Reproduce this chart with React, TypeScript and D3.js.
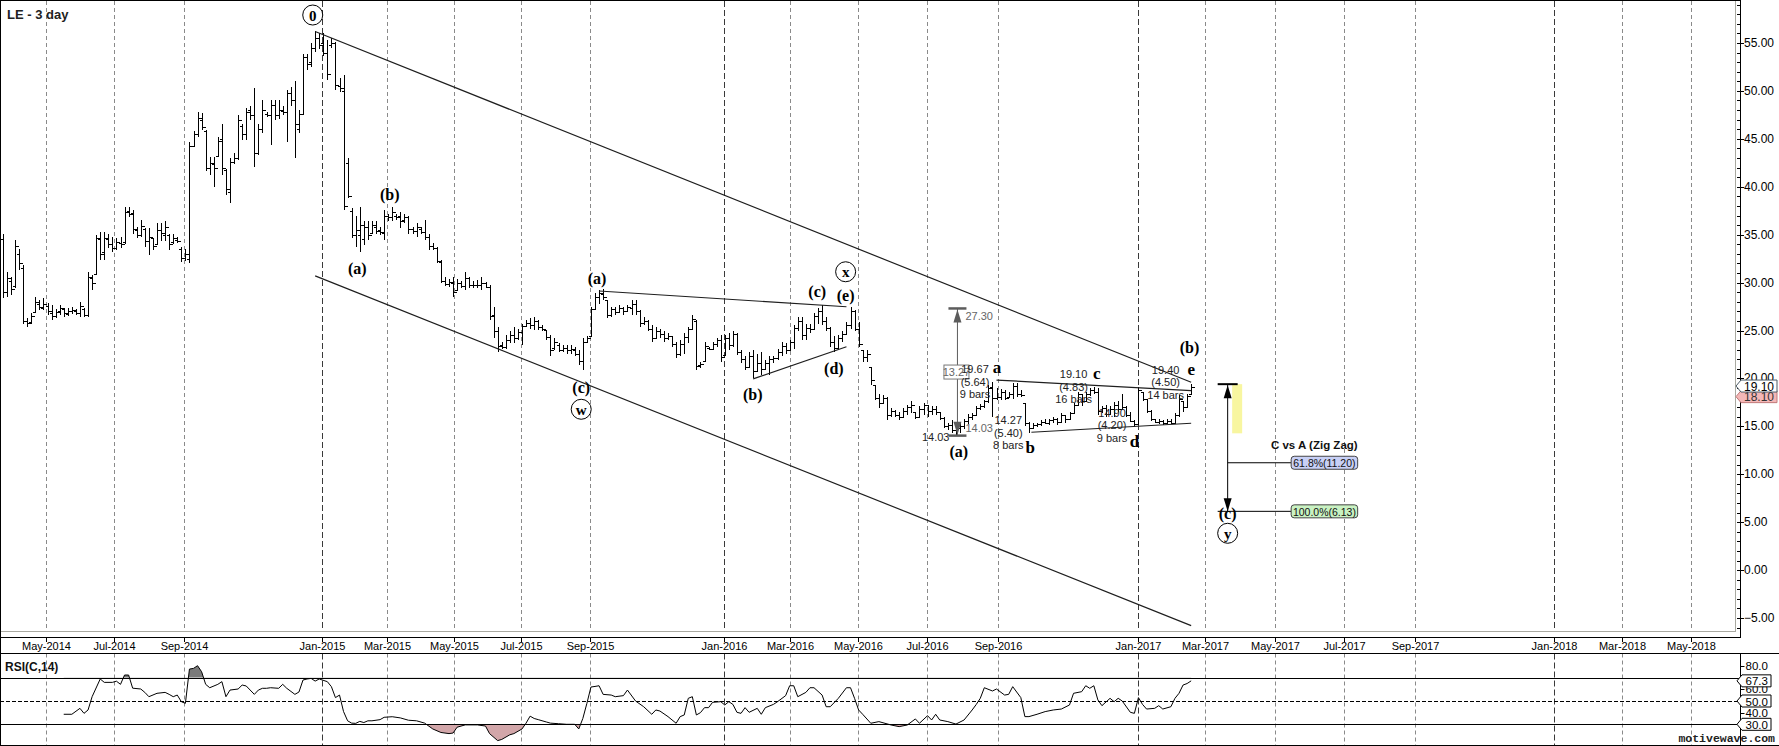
import React from 'react';
import * as d3 from 'd3';

const W = 1779;
const H = 746;

const chartTitle = 'LE - 3 day';
const rsiTitle = 'RSI(C,14)';
const watermark = 'motivewave.com';

const firstBarDate = '2014-03-24';
const lastBarDate = '2017-02-17';

// OHLC of the 3-day bars
const barOpen = [
  34.5,29.0,30.2,29.6,33.0,31.5,26.0,25.9,26.9,27.8,
  27.3,27.6,26.8,26.5,27.0,27.2,26.7,27.0,27.0,26.8,
  27.2,26.6,30.5,30.9,34.5,33.2,34.5,34.0,33.6,34.1,
  34.2,37.5,37.3,35.5,35.0,35.6,34.3,34.6,34.0,35.5,
  35.0,35.0,34.2,34.4,33.5,32.6,32.5,44.3,45.5,47.0,
  45.8,42.0,42.4,43.2,45.0,41.8,39.5,42.6,43.0,46.3,
  45.5,48.0,47.5,43.5,46.0,47.6,47.5,48.5,47.5,47.9,
  47.8,49.8,49.0,46.0,47.6,53.5,53.0,54.5,55.5,55.0,
  54.0,54.8,55.0,50.5,50.0,42.5,37.5,35.0,35.0,34.5,
  35.8,35.2,35.8,35.5,35.2,37.0,36.8,37.0,37.0,36.5,
  36.8,35.6,35.4,35.6,35.3,34.8,33.8,33.6,32.2,30.2,
  29.9,30.0,29.2,30.0,29.6,30.5,29.8,29.8,29.7,30.0,
  29.5,26.6,25.0,23.5,23.3,24.0,24.5,24.2,24.8,25.5,
  25.8,25.6,26.0,25.4,25.1,24.3,23.2,23.5,23.0,23.2,
  23.0,23.0,22.6,21.8,23.8,24.4,27.2,28.5,28.8,28.2,
  26.6,27.2,26.9,27.3,27.0,27.4,27.8,27.0,25.8,26.0,
  25.2,24.2,25.0,24.6,24.2,24.4,23.6,22.5,23.6,24.3,
  25.2,26.0,21.4,21.8,23.2,23.1,23.6,24.0,22.4,24.2,
  23.5,24.6,22.8,22.0,21.2,22.3,20.8,21.6,21.0,21.6,
  22.0,22.1,22.8,23.4,23.0,23.8,25.3,26.0,24.5,25.3,
  25.2,26.5,27.0,26.0,25.3,23.8,23.2,24.2,24.6,25.6,
  27.0,25.2,23.0,22.2,21.2,19.3,18.0,17.4,18.0,16.2,
  16.6,16.2,16.0,16.6,17.0,16.5,16.0,16.8,17.2,16.6,
  16.8,16.5,15.9,15.0,15.1,14.6,14.8,15.0,15.6,16.0,
  16.2,16.9,17.1,17.6,19.1,18.0,18.1,18.6,18.1,18.4,
  19.2,18.4,17.4,15.3,14.8,15.1,15.2,15.5,15.4,15.7,
  15.8,15.5,16.2,15.8,16.4,17.2,18.4,17.6,18.4,18.8,
  18.6,16.6,16.9,16.3,16.8,17.2,16.8,17.0,16.2,15.6,
  15.2,18.6,17.9,16.6,15.8,15.5,15.6,15.3,15.6,15.4,
  16.2,17.6,17.0,18.4,
];
const barHigh = [
  35.1,31.1,30.6,34.4,33.5,31.8,26.3,26.8,28.5,28.2,
  28.4,27.9,27.7,27.2,27.7,27.4,27.3,27.5,27.2,28.0,
  27.3,31.1,30.8,35.0,35.3,35.3,35.1,34.8,34.6,34.8,
  37.9,37.9,37.6,35.8,36.5,35.7,35.7,34.6,36.2,36.2,
  36.4,35.1,35.1,34.8,33.7,33.5,44.7,45.8,47.8,47.7,
  45.9,43.1,43.1,45.2,46.6,41.9,43.0,43.5,47.5,46.6,
  48.2,48.4,50.3,46.6,49.1,47.8,49.1,49.1,49.1,48.4,
  50.1,50.4,51.0,48.0,53.9,53.9,55.0,56.2,56.0,56.0,
  55.3,55.5,55.1,51.3,51.7,43.0,37.8,36.9,37.9,36.4,
  36.4,36.4,36.4,35.8,37.6,37.2,37.9,37.2,37.4,37.2,
  36.9,35.8,36.2,35.8,36.5,35.1,34.1,33.7,32.4,30.6,
  30.4,30.6,30.4,30.2,31.1,30.6,30.2,30.3,30.6,30.1,
  29.8,27.5,25.4,23.8,24.5,24.9,25.4,25.2,25.7,26.1,
  26.3,26.4,26.1,25.6,25.1,24.5,24.2,23.7,23.5,23.5,
  23.5,23.3,23.0,24.2,24.4,27.5,28.9,29.2,29.3,28.2,
  27.5,27.5,27.7,27.5,27.7,28.2,28.2,27.1,26.4,26.1,
  25.6,25.4,25.2,24.9,24.7,24.4,23.8,24.0,24.7,25.4,
  26.6,26.1,21.7,23.8,23.3,23.8,24.2,24.5,24.5,24.7,
  24.9,24.7,23.0,22.3,22.8,23.0,22.6,22.8,21.9,22.3,
  22.3,23.1,23.8,23.7,24.0,25.6,26.4,26.4,25.7,25.7,
  26.8,27.3,27.7,26.4,25.4,24.4,24.5,24.9,25.9,27.5,
  27.1,25.9,23.0,23.0,21.2,19.3,18.4,18.3,18.1,16.9,
  16.7,16.5,16.9,17.2,17.6,16.5,17.1,17.4,17.2,17.1,
  17.1,16.5,16.0,15.3,15.7,15.1,15.3,15.8,16.3,16.4,
  17.1,17.3,17.8,19.3,19.67,19.0,18.9,18.8,18.6,19.5,
  19.5,18.8,17.4,15.5,15.3,15.4,15.7,15.8,15.8,16.0,
  15.9,16.4,16.2,16.5,17.4,18.6,18.4,18.6,19.0,19.1,
  19.0,17.1,17.2,17.1,17.5,17.6,18.4,17.1,16.5,15.7,
  19.1,18.6,17.9,16.7,15.8,15.8,15.7,15.8,15.8,16.4,
  18.3,17.6,18.4,19.4,
];
const barLow = [
  28.4,28.5,28.7,29.4,31.3,25.7,25.4,25.7,26.8,27.1,
  27.1,26.6,26.1,26.3,26.6,26.4,26.5,26.7,26.6,26.4,
  26.4,26.4,29.2,30.8,32.4,32.4,33.6,33.2,33.4,33.6,
  34.0,36.8,35.1,34.6,34.8,33.7,32.9,33.4,33.9,34.3,
  34.3,33.4,34.0,34.1,32.2,32.3,32.0,44.2,45.2,45.9,
  41.6,41.2,40.0,43.1,41.2,39.1,38.3,42.4,42.8,44.9,
  44.9,47.0,42.1,43.3,45.6,47.3,44.4,47.0,47.1,47.5,
  44.7,48.4,43.0,45.6,47.5,52.2,52.5,54.1,54.4,53.6,
  51.1,54.5,50.1,49.9,37.6,38.8,34.6,33.7,33.2,33.9,
  34.4,35.1,35.1,35.0,34.4,36.4,36.4,36.5,35.7,36.2,
  35.1,35.1,34.8,35.1,34.4,33.4,33.4,32.0,30.0,29.6,
  29.5,28.5,29.1,29.4,29.2,29.4,29.4,29.4,29.2,29.4,
  26.1,24.2,22.8,23.1,23.1,23.7,23.7,24.0,23.5,25.4,
  25.2,25.1,25.1,24.9,24.0,22.3,23.0,22.8,22.8,22.6,
  22.6,22.3,21.4,20.9,23.7,24.4,27.1,27.8,28.2,26.3,
  26.4,26.6,26.8,26.6,26.9,26.6,26.6,25.4,25.6,24.9,
  23.8,24.2,24.2,23.8,24.0,23.3,22.1,22.3,22.6,23.7,
  25.1,20.9,21.1,21.7,23.0,23.1,23.3,21.7,22.3,23.0,
  23.3,22.4,21.6,20.9,21.2,20.0,20.7,20.4,20.9,20.4,
  21.6,21.9,22.3,22.6,23.0,23.1,24.9,24.0,24.0,24.7,
  25.2,25.7,25.6,24.9,23.3,22.8,23.2,23.8,24.6,25.2,
  24.9,23.3,21.7,21.7,19.3,17.7,16.9,17.4,15.7,16.0,
  16.0,15.7,16.0,16.2,16.4,15.8,16.0,16.2,16.0,16.2,
  16.2,15.7,14.8,14.6,14.3,14.03,14.3,14.7,15.2,15.7,
  16.2,16.7,16.9,17.4,16.0,17.8,17.8,17.8,18.1,17.9,
  18.1,18.1,15.0,14.27,14.8,14.9,15.0,15.2,15.1,15.3,
  15.1,15.5,15.3,15.7,16.4,17.2,17.1,17.6,18.2,18.4,
  16.2,16.4,16.0,16.2,16.0,16.5,16.7,16.0,15.5,14.9,
  15.1,17.6,16.4,15.6,15.3,15.2,15.1,15.2,15.2,15.4,
  16.0,16.5,17.0,18.3,
];
const barClose = [
  29.0,30.5,29.3,33.8,32.0,26.0,25.8,26.5,28.0,27.5,
  27.8,27.0,26.5,26.9,27.3,26.8,27.0,27.1,26.8,27.6,
  26.6,30.6,30.0,34.7,33.0,34.6,34.0,33.6,34.2,34.0,
  37.4,37.2,35.6,35.0,35.9,34.3,34.8,33.8,35.5,35.2,
  35.8,34.0,34.6,34.3,32.6,33.0,44.2,45.5,47.2,46.2,
  42.0,42.5,42.0,44.8,42.0,39.8,42.6,43.0,47.0,45.5,
  47.8,47.5,43.5,46.0,48.0,47.5,48.5,47.5,48.0,47.8,
  49.8,49.0,46.5,47.6,53.5,52.8,54.5,55.5,54.8,54.0,
  51.8,55.0,50.6,50.3,38.0,39.0,35.0,35.5,36.0,35.8,
  35.0,36.0,35.4,35.3,37.0,36.8,37.4,36.8,36.4,36.8,
  35.6,35.4,35.8,35.3,34.8,33.8,33.6,32.3,30.2,29.9,
  30.1,29.0,30.0,29.6,30.5,29.8,29.8,29.7,30.0,29.5,
  26.5,25.0,23.4,23.3,24.0,24.5,24.2,24.8,25.5,25.8,
  25.6,26.0,25.4,25.2,24.3,23.0,23.8,23.0,23.2,23.0,
  23.1,22.6,21.8,23.8,24.2,27.2,28.5,28.9,28.5,26.6,
  27.2,26.9,27.4,27.0,27.5,27.8,27.0,25.8,26.0,25.2,
  24.2,25.0,24.6,24.2,24.4,23.6,22.5,23.6,24.3,25.2,
  26.2,21.3,21.5,23.4,23.1,23.6,24.0,22.2,24.2,23.5,
  24.6,22.8,22.0,21.2,22.3,20.8,21.6,21.0,21.6,22.0,
  22.1,22.8,23.4,23.0,23.8,25.3,26.0,24.5,25.3,25.2,
  26.5,27.0,26.0,25.3,23.8,23.2,24.2,24.6,25.6,27.0,
  25.2,23.6,22.2,22.6,19.8,18.0,17.4,18.0,16.2,16.6,
  16.2,16.0,16.6,17.0,17.2,16.0,16.8,17.2,16.6,16.8,
  16.5,15.9,15.0,15.1,14.6,14.8,15.0,15.6,16.0,16.2,
  16.9,17.1,17.6,19.0,18.0,18.1,18.6,18.0,18.4,19.2,
  18.4,18.3,15.3,14.8,15.1,15.2,15.5,15.4,15.7,15.8,
  15.5,16.2,15.8,16.4,17.2,18.4,17.6,18.4,18.8,18.6,
  16.6,16.9,16.3,16.8,17.2,16.8,17.0,16.2,15.6,15.2,
  18.8,17.9,16.6,15.8,15.5,15.6,15.3,15.6,15.4,16.2,
  17.9,17.0,18.2,19.1,
];

// RSI(14) readings: bar index and value
const rsiIndex = [
  15,17,19,20,21,22,24,25,27,28,29,30,31,32,34,35,36,38,40,41,42,43,44,45,46,47,48,49,50,51,
  53,54,55,56,58,59,60,62,63,64,65,66,68,69,70,72,73,74,75,76,77,78,80,81,82,83,84,85,86,87,
  88,89,90,91,92,93,94,96,98,100,102,104,106,108,110,111,112,114,117,119,120,122,123,125,126,128,129,130,131,132,
  134,135,137,139,141,142,143,144,145,146,147,148,150,151,153,154,156,158,160,161,162,164,166,167,168,169,170,171,172,173,
  174,175,177,178,179,180,181,182,183,184,186,187,188,190,191,193,194,195,196,198,199,200,202,203,204,206,208,209,210,211,
  212,214,216,219,221,223,225,226,228,229,230,231,233,235,237,239,240,241,242,244,245,247,248,249,251,252,253,255,257,259,
  261,263,264,266,267,268,269,270,271,273,274,275,276,278,279,280,281,282,284,285,286,288,289,290,291,292,293,
];
const rsiValue = [
  38.6,38.6,43.7,39.4,42.3,53.7,68.9,66,66,67,64.3,72.3,72.3,61,60.3,57.4,53.7,56.6,57.4,55.7,53.7,55.1,49.4,48,77.4,78,80.3,75.1,64.3,61.4,
  64.3,66.6,53.7,59.4,60.3,63.7,62.9,55.7,59.4,60.9,60.9,61.4,60.9,64.3,60.9,55.7,57.7,68,68.9,69.4,67.1,68.9,66.6,62.3,52.9,55.1,40.9,33,31,30.8,
  32.5,31.5,33,33,33.5,34,36,36.5,35.5,33.5,33,31,26,23,22,22.5,27.5,29.5,29.5,28.5,22,16,17,21,22,26,31,37,35,34,
  32,31,30.5,30,30,26,35,48,62,62.5,63.1,55.7,55.1,53.7,54.6,59.4,50,45.1,38.6,42.3,41.4,36.6,30.9,36.6,38,52.3,53.7,38,40,44.3,
  44.3,48.9,49.4,46.6,49.4,47.1,40.3,39.4,44.3,40.3,43.7,38.6,44.3,47.1,49.4,54.6,63.1,63.1,53.7,57.4,61.4,61.4,55.1,45.1,45.1,52.3,61.4,61.4,52.3,42.3,
  38.6,30.9,32.3,29.4,28,29.4,34.6,30.9,37.4,33.7,38.6,33.7,32.3,30.2,33.7,42.3,47,52.3,61.4,58.6,60.3,55.1,55.7,62.3,52.9,36.6,36.6,38.6,40.9,42.3,
  43.1,46.6,56.6,58,63.1,60.9,63.1,50.9,46,52.3,49.4,52.3,50,40.3,39.4,52.9,47.1,43.1,43.7,46,43.1,45.1,52.3,56.6,63.7,65,67.3,
];

const monthTicks = [
  '2014-05-01','2014-07-01','2014-09-01','2015-01-01','2015-03-01','2015-05-01','2015-07-01',
  '2015-09-01','2016-01-01','2016-03-01','2016-05-01','2016-07-01','2016-09-01','2017-01-01',
  '2017-03-01','2017-05-01','2017-07-01','2017-09-01','2018-01-01','2018-03-01','2018-05-01',
];
const priceTicks = [-5, 0, 5, 10, 15, 20, 25, 30, 35, 40, 45, 50, 55];
const rsiTicks = [80, 60, 40];
const rsiGuides = [70, 50, 30];
const rsiGuideBadges = [50, 30];
const lastPrice = 19.1;
const markerPrice = 18.1;

// trend / channel lines: [barIndex0, price0, barIndex1, price1]
const trendLines = [
  [77, 56.2, 293, 19.6],
  [77, 30.7, 293, -5.8],
  [147, 29.12, 208, 27.48],
  [185, 19.95, 208, 23.3],
  [245, 19.83, 293, 18.72],
  [253.6, 14.38, 293, 15.32],
];

const waveLabels = [
  { text: '0', i: 76.4, p: 57.92, kind: 'circle' },
  { text: '(b)', i: 95.4, p: 39.21, kind: 'paren' },
  { text: '(a)', i: 87.4, p: 31.49, kind: 'paren' },
  { text: '(c)', i: 142.6, p: 19.03, kind: 'paren' },
  { text: 'w', i: 142.6, p: 16.78, kind: 'circle' },
  { text: '(a)', i: 146.5, p: 30.45, kind: 'paren' },
  { text: '(b)', i: 184.9, p: 18.27, kind: 'paren' },
  { text: '(c)', i: 200.8, p: 29.12, kind: 'paren' },
  { text: '(e)', i: 207.8, p: 28.63, kind: 'paren' },
  { text: 'x', i: 207.8, p: 31.13, kind: 'circle' },
  { text: '(d)', i: 204.9, p: 21.05, kind: 'paren' },
  { text: '(a)', i: 235.7, p: 12.35, kind: 'paren' },
  { text: 'a', i: 245.1, p: 21.16, kind: 'letter' },
  { text: 'b', i: 253.3, p: 12.81, kind: 'letter' },
  { text: 'c', i: 269.7, p: 20.53, kind: 'letter' },
  { text: 'd', i: 279.0, p: 13.39, kind: 'letter' },
  { text: 'e', i: 293.0, p: 20.95, kind: 'letter' },
  { text: '(b)', i: 292.6, p: 23.25, kind: 'paren' },
  { text: '(c)', i: 302, p: 5.92, kind: 'paren' },
  { text: 'y', i: 302, p: 3.84, kind: 'circle' },
];

const waveStats = [
  { i: 239.7, p: 20.96, lines: ['19.67', '(5.64)', '9 bars'] },
  { i: 247.9, p: 15.66, lines: ['14.27', '(5.40)', '8 bars'] },
  { i: 264.0, p: 20.46, lines: ['19.10', '(4.83)', '16 bars'] },
  { i: 273.5, p: 16.42, lines: ['14.90', '(4.20)', '9 bars'] },
  { i: 286.7, p: 20.88, lines: ['19.40', '(4.50)', '14 bars'] },
];

const measureBar = 235;
const measureTop = 27.3;
const measureBottom = 14.03;
const measureSpan = '13.27';

const fibBar = 302;
const fibTop = 19.4;
const fibZoneLow = 14.27;
const fibTitle = 'C vs A (Zig Zag)';
const fibLevels = [
  { label: '61.8%(11.20)', value: 11.2, fill: '#c8d0f6' },
  { label: '100.0%(6.13)', value: 6.13, fill: '#c9f2c2' },
];

// time-axis calibration (bar-time to pixel)
const timeAnchors = ['2014-05-01', '2015-01-01', '2016-05-01', '2017-01-01', '2018-05-01'];
const timeAnchorX = [45.7, 321.7, 857.7, 1137.5, 1691.3];

const SANS = "'Liberation Sans', Arial, sans-serif";
const NARROW = "'Liberation Sans Narrow', 'Arial Narrow', 'Liberation Sans', sans-serif";
const SERIF = "'Liberation Serif', 'Times New Roman', 'DejaVu Serif', serif";

const PRICE_BOTTOM = 631.5;
const FRAME_RIGHT = 1735.5;
const AXIS_X = 1740.5;
const XAXIS_TOP = 637.5;
const RSI_TOP = 653.5;
const RSI_BOTTOM = 745.5;

const parse = (s: string) => new Date(s + 'T00:00:00Z');
const crisp = (v: number) => Math.round(v) + 0.5;

function badgePath(x0: number, yc: number, w: number, h: number) {
  return `M${x0},${yc}L${x0 + 5},${yc - h / 2}L${x0 + w},${yc - h / 2}L${x0 + w},${yc + h / 2}L${x0 + 5},${yc + h / 2}Z`;
}

export default function App() {
  const xTime = d3.scaleUtc().domain(timeAnchors.map(parse)).range(timeAnchorX);
  const N = barClose.length;
  const xBar = d3
    .scaleLinear()
    .domain([0, N - 1])
    .range([xTime(parse(firstBarDate)), xTime(parse(lastBarDate))]);
  const yP = d3.scaleLinear().domain([-5, 55]).range([618, 43]);
  const yR = d3.scaleLinear().domain([30, 70]).range([724.3, 677.7]);
  const fmtMonth = d3.utcFormat('%b-%Y');
  const fmtPrice = d3.format('.2f');
  const fmtRsi = d3.format('.1f');

  // bars path
  let barD = '';
  for (let i = 0; i < N; i++) {
    const x = crisp(xBar(i));
    const yh = Math.round(yP(barHigh[i]));
    let yl = Math.round(yP(barLow[i]));
    if (yl - yh < 1) yl = yh + 1;
    const yo = crisp(yP(barOpen[i]));
    const yc = crisp(yP(barClose[i]));
    barD += `M${x},${yh}V${yl}M${x - 3},${yo}H${x}M${x},${yc}H${x + 3}`;
  }

  const rsiPts: [number, number][] = rsiIndex.map((ix, k) => [ix, rsiValue[k]]);
  const rsiLine = d3
    .line<[number, number]>()
    .x((d) => xBar(d[0]))
    .y((d) => yR(d[1]))(rsiPts) as string;
  const rsiArea70 = d3
    .area<[number, number]>()
    .x((d) => xBar(d[0]))
    .y0(yR(70))
    .y1((d) => yR(d[1]))(rsiPts) as string;
  const rsiArea30 = d3
    .area<[number, number]>()
    .x((d) => xBar(d[0]))
    .y0(yR(30))
    .y1((d) => yR(d[1]))(rsiPts) as string;

  const minorTicks = d3.range(-7, 60, 1);

  // measurement
  const mx = xBar(measureBar) + 1.5;
  const myTop = yP(measureTop);
  const myBot = yP(measureBottom);
  const myMid = yP((measureTop + measureBottom) / 2);

  // fib projection
  const fx = xBar(fibBar);
  const fyTop = yP(fibTop);
  const fy100 = yP(fibLevels[1].value);
  const fy618 = yP(fibLevels[0].value);
  const badgeX = fx + 63.5;
  const badgeW = 66.5;

  return (
    <svg
      width={W}
      height={H}
      viewBox={`0 0 ${W} ${H}`}
      style={{ position: 'absolute', left: 0, top: 0, background: '#fff' }}
    >
      <rect x={0} y={0} width={W} height={H} fill="#fff" />
      <defs>
        <clipPath id="above70">
          <rect x={0} y={RSI_TOP} width={AXIS_X} height={yR(70) - RSI_TOP} />
        </clipPath>
        <clipPath id="below30">
          <rect x={0} y={yR(30)} width={AXIS_X} height={RSI_BOTTOM - yR(30)} />
        </clipPath>
      </defs>

      {/* vertical month grid */}
      {monthTicks.map((m) => {
        const d = parse(m);
        const x = crisp(xTime(d));
        const jan = d.getUTCMonth() === 0;
        const col = jan ? '#3a3a3a' : '#8a8a8a';
        const dash = jan ? '6,3' : '4,3';
        return (
          <g key={m}>
            <line x1={x} x2={x} y1={1} y2={PRICE_BOTTOM} stroke={col} strokeDasharray={dash} />
            <line x1={x} x2={x} y1={RSI_TOP} y2={RSI_BOTTOM} stroke={col} strokeDasharray={dash} />
            <line x1={x} x2={x} y1={XAXIS_TOP} y2={642} stroke="#000" />
            <text
              x={x}
              y={650}
              textAnchor="middle"
              fontFamily={NARROW}
              fontSize={11}
              fill="#000"
            >
              {fmtMonth(d)}
            </text>
          </g>
        );
      })}

      {/* frames */}
      <g shapeRendering="crispEdges">
        <line x1={FRAME_RIGHT} x2={FRAME_RIGHT} y1={0} y2={PRICE_BOTTOM} stroke="#a9a9a1" />
        <line x1={0} x2={FRAME_RIGHT} y1={PRICE_BOTTOM} y2={PRICE_BOTTOM} stroke="#a9a9a1" />
        <line x1={0} x2={AXIS_X} y1={0.5} y2={0.5} stroke="#000" />
        <line x1={0.5} x2={0.5} y1={0} y2={H} stroke="#000" />
        <line x1={AXIS_X} x2={AXIS_X} y1={0} y2={XAXIS_TOP} stroke="#000" />
        <line x1={0} x2={AXIS_X} y1={XAXIS_TOP} y2={XAXIS_TOP} stroke="#000" />
        <line x1={0} x2={W} y1={RSI_TOP} y2={RSI_TOP} stroke="#000" />
        <line x1={AXIS_X} x2={AXIS_X} y1={RSI_TOP} y2={RSI_BOTTOM} stroke="#000" />
        <line x1={0} x2={W} y1={RSI_BOTTOM} y2={RSI_BOTTOM} stroke="#000" />
      </g>

      {/* price bars */}
      <path d={barD} stroke="#000" strokeWidth={1} fill="none" shapeRendering="crispEdges" />

      {/* trend and channel lines */}
      {trendLines.map((t, k) => (
        <line
          key={k}
          x1={xBar(t[0])}
          y1={yP(t[1])}
          x2={xBar(t[2])}
          y2={yP(t[3])}
          stroke="#1e1e1e"
          strokeWidth={1.2}
        />
      ))}

      {/* measurement of wave (a) */}
      <g stroke="#5c5c5c" fill="#5c5c5c">
        <line x1={mx} x2={mx} y1={myTop} y2={myBot} strokeWidth={1} />
        <line x1={mx - 9} x2={mx + 9} y1={myTop} y2={myTop} strokeWidth={2.5} />
        <line x1={mx - 9} x2={mx + 9} y1={myBot} y2={myBot} strokeWidth={2.5} />
        <path d={`M${mx},${myTop + 1}L${mx - 4},${myTop + 14}L${mx + 4},${myTop + 14}Z`} stroke="none" />
        <path d={`M${mx},${myBot - 1}L${mx - 4},${myBot - 14}L${mx + 4},${myBot - 14}Z`} stroke="none" />
      </g>
      <rect x={mx - 13.5} y={myMid - 7} width={25} height={14} fill="#fff" stroke="#777" />
      <text x={mx - 1} y={myMid} textAnchor="middle" dominantBaseline="central" fontFamily={SANS} fontSize={11} fill="#666">
        {measureSpan}
      </text>
      <text x={mx + 8} y={myTop + 8} dominantBaseline="central" fontFamily={SANS} fontSize={11} fill="#666">
        {fmtPrice(measureTop)}
      </text>
      <text x={mx + 8} y={myBot - 8} dominantBaseline="central" fontFamily={SANS} fontSize={11} fill="#666">
        {fmtPrice(measureBottom)}
      </text>
      <text x={mx - 8} y={myBot + 1} textAnchor="end" dominantBaseline="central" fontFamily={SANS} fontSize={11} fill="#222">
        {fmtPrice(measureBottom)}
      </text>

      {/* wave statistics */}
      {waveStats.map((s, k) => (
        <g key={k}>
          {s.lines.map((ln, j) => (
            <text
              key={j}
              x={xBar(s.i)}
              y={yP(s.p) + j * 12.5}
              textAnchor="middle"
              dominantBaseline="central"
              fontFamily={SANS}
              fontSize={11}
              fill="#222"
            >
              {ln}
            </text>
          ))}
        </g>
      ))}

      {/* fib projection */}
      <rect x={fx + 4.5} y={fyTop} width={10} height={yP(fibZoneLow) - fyTop} fill="#f8f6a0" />
      <g stroke="#000" fill="#000">
        <line x1={fx} x2={fx} y1={fyTop} y2={fy100} strokeWidth={1} />
        <line x1={fx - 10} x2={fx + 10} y1={fyTop} y2={fyTop} strokeWidth={2} />
        <path d={`M${fx},${fyTop + 1}L${fx - 4},${fyTop + 14}L${fx + 4},${fyTop + 14}Z`} stroke="none" />
        <path d={`M${fx},${fy100}L${fx - 4},${fy100 - 13}L${fx + 4},${fy100 - 13}Z`} stroke="none" />
        <line x1={fx} x2={badgeX} y1={fy618} y2={fy618} strokeWidth={1} />
        <line x1={fx - 10} x2={badgeX} y1={fy100} y2={fy100} strokeWidth={1} />
      </g>
      <text
        x={badgeX + badgeW}
        y={fy618 - 17.5}
        textAnchor="end"
        dominantBaseline="central"
        fontFamily={SANS}
        fontWeight="bold"
        fontSize={11.5}
        fill="#111"
      >
        {fibTitle}
      </text>
      {fibLevels.map((lv) => (
        <g key={lv.label}>
          <rect
            x={badgeX}
            y={yP(lv.value) - 6.5}
            width={badgeW}
            height={13}
            rx={3}
            fill={lv.fill}
            stroke="#444"
          />
          <text
            x={badgeX + badgeW / 2}
            y={yP(lv.value) + 0.5}
            textAnchor="middle"
            dominantBaseline="central"
            fontFamily={SANS}
            fontSize={10.5}
            fill="#111"
          >
            {lv.label}
          </text>
        </g>
      ))}

      {/* wave labels */}
      {waveLabels.map((w, k) => {
        const x = xBar(w.i);
        const y = yP(w.p);
        if (w.kind === 'circle') {
          return (
            <g key={k}>
              <circle cx={x} cy={y} r={10} fill="#fff" stroke="#000" strokeWidth={1} />
              <text x={x} y={y + 0.5} textAnchor="middle" dominantBaseline="central" fontFamily={SERIF} fontWeight="bold" fontSize={15} fill="#000">
                {w.text}
              </text>
            </g>
          );
        }
        return (
          <text
            key={k}
            x={x}
            y={y}
            textAnchor="middle"
            dominantBaseline="central"
            fontFamily={SERIF}
            fontWeight="bold"
            fontSize={w.kind === 'letter' ? 17 : 16}
            fill="#000"
          >
            {w.text}
          </text>
        );
      })}

      {/* price axis */}
      <g shapeRendering="crispEdges">
        {minorTicks.map((t) => {
          const y = crisp(yP(t));
          if (y < 1 || y > PRICE_BOTTOM) return null;
          const major = t % 5 === 0;
          return (
            <line key={t} x1={FRAME_RIGHT + 1} x2={major ? AXIS_X + 3 : AXIS_X} y1={y} y2={y} stroke="#000" />
          );
        })}
      </g>
      {priceTicks.map((t) => (
        <text key={t} x={AXIS_X + 3.5} y={yP(t)} dominantBaseline="central" fontFamily={SANS} fontSize={12} fill="#000">
          {fmtPrice(t)}
        </text>
      ))}
      <path d={badgePath(FRAME_RIGHT + 0.5, yP(markerPrice), 41, 12)} fill="#f4b7b7" stroke="#c07a7a" />
      <text x={AXIS_X + 3.5} y={yP(markerPrice) + 0.5} dominantBaseline="central" fontFamily={SANS} fontSize={12} fill="#333">
        {fmtPrice(markerPrice)}
      </text>
      <path d={badgePath(FRAME_RIGHT + 0.5, yP(lastPrice) - 1, 41, 12)} fill="#fff" stroke="#4a5a66" />
      <text x={AXIS_X + 3.5} y={yP(lastPrice) - 0.5} dominantBaseline="central" fontFamily={SANS} fontSize={12} fill="#000">
        {fmtPrice(lastPrice)}
      </text>

      {/* RSI pane */}
      <path d={rsiArea70} fill="#7a7a7a" clipPath="url(#above70)" />
      <path d={rsiArea30} fill="#d2a6a9" clipPath="url(#below30)" />
      {rsiGuides.map((g) => (
        <line
          key={g}
          x1={0}
          x2={AXIS_X}
          y1={crisp(yR(g))}
          y2={crisp(yR(g))}
          stroke="#000"
          strokeWidth={1}
          strokeDasharray={g === 50 ? '4,2' : undefined}
          shapeRendering="crispEdges"
        />
      ))}
      <path d={rsiLine} fill="none" stroke="#000" strokeWidth={1} />
      <text x={5} y={671} fontFamily={SANS} fontWeight="bold" fontSize={12} fill="#111">
        {rsiTitle}
      </text>
      {rsiTicks.map((t) => (
        <g key={t}>
          <line x1={AXIS_X} x2={AXIS_X + 4} y1={crisp(yR(t))} y2={crisp(yR(t))} stroke="#000" />
          <text x={AXIS_X + 5} y={yR(t)} dominantBaseline="central" fontFamily={NARROW} fontSize={11.5} fill="#000">
            {fmtRsi(t)}
          </text>
        </g>
      ))}
      {[...rsiGuideBadges, rsiValue[rsiValue.length - 1]].map((v, k) => (
        <g key={k}>
          <path d={badgePath(AXIS_X - 3.5, yR(v), 34, 12)} fill="#fff" stroke="#000" />
          <text x={AXIS_X + 5} y={yR(v) + 0.5} dominantBaseline="central" fontFamily={NARROW} fontSize={11.5} fill="#000">
            {fmtRsi(v)}
          </text>
        </g>
      ))}

      {/* title and watermark */}
      <text x={7} y={19} fontFamily={SANS} fontWeight="bold" fontSize={13} fill="#222">
        {chartTitle}
      </text>
      <text x={1775} y={742} textAnchor="end" fontFamily="'Liberation Mono', 'DejaVu Sans Mono', monospace" fontWeight="bold" fontSize={11.5} fill="#222">
        {watermark}
      </text>
    </svg>
  );
}
